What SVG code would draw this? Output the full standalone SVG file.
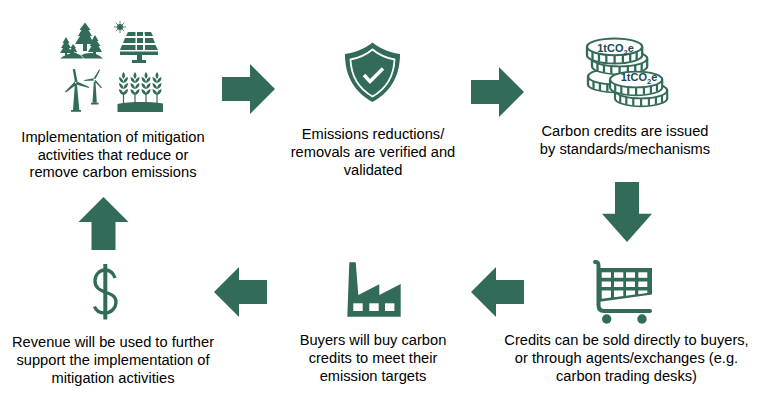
<svg xmlns="http://www.w3.org/2000/svg" width="769" height="412" viewBox="0 0 769 412">
<style>
.t{font-family:"Liberation Sans",Arial,sans-serif;font-size:14.670px;fill:#000;text-anchor:middle}
.f{fill:#326b5a}
.w{fill:#fff}
.l{fill:none;stroke:#326b5a;stroke-linecap:round;stroke-linejoin:round}
.c{font-family:"Liberation Sans",Arial,sans-serif;font-size:11px;font-weight:bold;fill:#1d4a56;text-anchor:middle}
.s{font-size:7.500px}
</style>
<defs>
<path id="arrow" d="M0-12H28V-25L53 0 28 25V12H0Z"/>
<g id="coin">
<path d="M0 9V20C0 26 14 31 30 31S60 26 60 20V9" fill="#fff" stroke="#326b5a" stroke-width="2.500"/>
<path d="M6 15V26M13 17V28M21 18V30M30 19V31M39 18V30M47 17V28M54 15V26" stroke="#326b5a" stroke-width="2.500" fill="none"/>
<ellipse cx="30" cy="9" rx="30" ry="11" fill="#fff" stroke="#326b5a" stroke-width="2.500"/>
</g>
<g id="ear">
<path d="M-.600-3H.600V8H-.600Z"/>
<path d="M0-23C2-21 2-18 0-16-2-18-2-21 0-23ZM0 0C-3-.500-4.500-3-4.500-6-2-5.500 0-3 0 0ZM0 0C3-.500 4.500-3 4.500-6 2-5.500 0-3 0 0ZM0-6C-3-6.500-4.500-9-4.500-12-2-11.500 0-9 0-6ZM0-6C3-6.500 4.500-9 4.500-12 2-11.500 0-9 0-6ZM0-12C-3-12.500-4.500-15-4.500-18-2-17.500 0-15 0-12ZM0-12C3-12.500 4.500-15 4.500-18 2-17.500 0-15 0-12Z"/>
</g>
</defs>
<g id="connectors" class="f">
<use href="#arrow" transform="translate(222 89)"/>
<use href="#arrow" transform="translate(471 92)"/>
<use href="#arrow" transform="translate(627 182) rotate(90) scale(1.130 1)"/>
<use href="#arrow" transform="translate(267 292) rotate(180)"/>
<use href="#arrow" transform="translate(524 292) rotate(180)"/>
<use href="#arrow" transform="translate(103.500 250) rotate(-90)"/>
</g>
<g id="node-mitigation">
<g class="f">
<path d="M66 37 62.500 43H64L61 48H63L60 53H65V57H67V53H72L69 48H71L68 43H69.500Z"/>
<path d="M73 44 70.500 48H71.500L69 52H71L69 55H72V58H74V55H78L76 52H77L75 48H76Z"/>
<path d="M95 35 91.500 41H93L89.500 46H91.500L88 52H93V55H96V52H102L98.500 46H100.500L97 41H98.500Z"/>
<path d="M85 22.500 79.500 30H81.500L78 36H80L75 44H83V51H87V44H94L90 36H92L88.500 30H90.500Z"/>
<path d="M60 58.500C68 52 76 53 82 55 88 52 96 52 103 58.500Z"/>
</g>
<path d="M74 52C78 53 82 55 84 59" stroke="#fff" stroke-width=".8" fill="none"/>
<g class="f">
<circle cx="120" cy="27" r="3"/>
<path d="M120 21V33M114 27H126M115.800 22.800 124.200 31.200M115.800 31.200 124.200 22.800" stroke="#326b5a" stroke-width=".8"/>
<path d="M128 32H135.500V36H126ZM137 32H143V36H137ZM144.500 32H151L153 36H145ZM125 38H135.500V43H123ZM137 38H143V43H137ZM145 38H153L155 43H145ZM122 45H135.500V50H120ZM137 45H143V50H137ZM145 45H155.500L158 50H145Z"/>
<path d="M120 51.500H158V55H120ZM137 55H142V60H137ZM132 60H146V63H132Z"/>
</g>
<g class="f">
<path d="M72.700 69.300 75 69 77.500 81.500 75 82ZM77 81.500 89.300 87 88.800 88 76 84.500ZM74.500 82 76.500 84.500 65.800 92.500 65 91.500ZM74.800 85H77L79.300 110H73Z"/>
<rect x="71" y="110" width="10" height="1.800"/>
<path d="M99.300 69.300 100 70 95.500 79 93.500 78.500ZM93.500 78.300 94 80.500 84.300 81 84.300 80ZM95.500 80 102 87.500 101 88.200 94.200 81ZM93.800 82H95.500L96.800 102.700H92.500Z"/>
<rect x="91" y="102.700" width="7.500" height="1.800"/>
</g>
<circle cx="75.700" cy="82.700" r="1.700" class="f"/>
<circle cx="75.700" cy="82.700" r=".8" class="w"/>
<circle cx="94.300" cy="79.300" r=".8" class="w"/>
<g class="f">
<use href="#ear" x="123.500" y="95"/>
<use href="#ear" x="135" y="95"/>
<use href="#ear" x="146" y="95"/>
<use href="#ear" x="157" y="95"/>
<path d="M117.500 104C130 101.500 148 101.500 163 103.500V112H117.500Z"/>
</g>
<text class="t" x="113" y="142">Implementation of mitigation</text>
<text class="t" x="113" y="160">activities that reduce or</text>
<text class="t" x="113" y="177">remove carbon emissions</text>
</g>
<g id="node-verified">
<path class="f" d="M372.500 42.500C379 48 388 52 400 54 400 72 394 90 372.500 102 351 90 345 72 345 54 357 52 366 48 372.500 42.500Z"/>
<path d="M372.500 49.500C378 54 386 58 394.500 59.500 394 73 389 87 372.500 96.500 356 87 351 73 350.500 59.500 359 58 367 54 372.500 49.500Z" fill="#326b5a" stroke="#fff" stroke-width="1.800"/>
<path d="M364 75 370 81.500 383 68.500" fill="none" stroke="#fff" stroke-width="3.500"/>
<text class="t" x="373" y="139">Emissions reductions/</text>
<text class="t" x="373" y="157">removals are verified and</text>
<text class="t" x="373" y="175">validated</text>
</g>
<g id="node-credits">
<use href="#coin" transform="translate(588 70) scale(.92 .72)"/>
<use href="#coin" transform="translate(592 52) scale(.92 .72)"/>
<use href="#coin" transform="translate(587 40) scale(.92 .76)"/>
<use href="#coin" transform="translate(615 84) scale(.87 .72)"/>
<use href="#coin" transform="translate(610 73) scale(.87 .72)"/>
<text class="c" x="615.500" y="52">1tCO<tspan class="s" dy="3">2</tspan><tspan dy="-3">e</tspan></text>
<text class="c" x="639" y="81">1tCO<tspan class="s" dy="3">2</tspan><tspan dy="-3">e</tspan></text>
<text class="t" x="625" y="136">Carbon credits are issued</text>
<text class="t" x="625" y="154">by standards/mechanisms</text>
</g>
<g id="node-sold">
<path class="l" d="M595 262H596C597.500 262 598.500 263.500 598.500 266V305C598.500 309 600 311 604 311H650" stroke-width="4"/>
<path class="f" d="M598 268H652V294.500L598 302Z"/>
<g class="w">
<rect x="601.700" y="272.300" width="9.300" height="5.500"/><rect x="614" y="272.300" width="9.300" height="5.500"/><rect x="626" y="272.300" width="9" height="5.500"/><rect x="638.300" y="272.300" width="9" height="5.500"/>
<rect x="601.700" y="281.500" width="9.300" height="5.500"/><rect x="614" y="281.500" width="9.300" height="5.500"/><rect x="626" y="281.500" width="9" height="5.500"/><rect x="638.300" y="281.500" width="9" height="5.500"/>
<path d="M601.700 290.500H611V297.500L601.700 298.800ZM614 290.500H623.300V296L614 297.200ZM626 290.500H635V294.500L626 295.800ZM638.300 290.500H647.300V293L638.300 294.200Z"/>
</g>
<circle class="f" cx="606.700" cy="319" r="4.700"/>
<circle class="f" cx="642" cy="319" r="4.700"/>
<text class="t" x="626.500" y="345">Credits can be sold directly to buyers,</text>
<text class="t" x="626.500" y="363">or through agents/exchanges (e.g.</text>
<text class="t" x="626.500" y="381">carbon trading desks)</text>
</g>
<g id="node-buyers">
<path class="f" d="M347.300 316.700 349.300 262.300H355.700L358.300 295 379.300 284.300V295L400.700 284V316.700Z"/>
<g class="w"><rect x="353.300" y="303.300" width="9.400" height="7.700"/><rect x="369.300" y="303.300" width="9.400" height="7.700"/><rect x="385" y="303.300" width="9.400" height="7.700"/></g>
<text class="t" x="373" y="345">Buyers will buy carbon</text>
<text class="t" x="373" y="363">credits to meet their</text>
<text class="t" x="373" y="381">emission targets</text>
</g>
<g id="node-revenue">
<path class="l" d="M115 278C113 272 109 270 105 270 99 270 95 275 95 281 95 288 100 290 105 292 111 294 116 296 116 302 116 308 111 313 105 313 100 313 96 311 94.500 306.500" stroke-width="3.300" style="stroke-linecap:butt"/>
<path class="f" d="M103.300 264H107.300V319.500H103.300Z"/>
<text class="t" x="113" y="347">Revenue will be used to further</text>
<text class="t" x="113" y="365">support the implementation of</text>
<text class="t" x="113" y="383">mitigation activities</text>
</g>
</svg>
